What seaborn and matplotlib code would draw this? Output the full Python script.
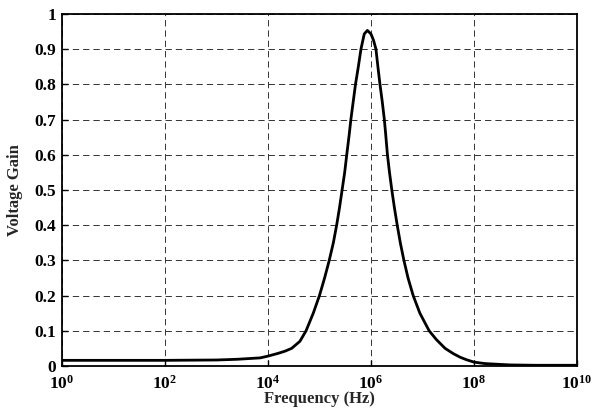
"""Voltage gain vs frequency (resonance curve)."""

import numpy as np
import pandas as pd
import seaborn as sns
from matplotlib import pyplot as plt

# values (log10 of frequency in Hz, gain)
log_freq = [
    0.0, 2.0, 3.0, 3.4, 3.85, 4.0, 4.2, 4.33, 4.46, 4.62, 4.74, 4.88, 5.00,
    5.10, 5.19, 5.27, 5.334, 5.39, 5.44, 5.49, 5.53, 5.58, 5.61, 5.655, 5.70,
    5.755, 5.806, 5.87, 5.93, 6.00, 6.05, 6.097, 6.135, 6.175, 6.22, 6.26,
    6.285, 6.32, 6.36, 6.405, 6.455, 6.51, 6.57, 6.64, 6.72, 6.82, 6.95,
    7.13, 7.27, 7.44, 7.6, 7.73, 7.85, 8.0, 8.2, 8.44, 8.7, 9.2, 10.0,
]
gain = [
    0.016, 0.016, 0.017, 0.019, 0.023, 0.028, 0.036, 0.042, 0.05, 0.07, 0.10,
    0.15, 0.20, 0.25, 0.30, 0.35, 0.40, 0.45, 0.50, 0.55, 0.60, 0.66, 0.70,
    0.75, 0.80, 0.85, 0.90, 0.943, 0.953, 0.943, 0.925, 0.90, 0.85, 0.80,
    0.75, 0.70, 0.66, 0.60, 0.55, 0.50, 0.45, 0.40, 0.35, 0.30, 0.25, 0.20,
    0.15, 0.10, 0.075, 0.05, 0.035, 0.025, 0.018, 0.011, 0.007, 0.005, 0.003,
    0.002, 0.002,
]
xtick_exp = [0, 2, 4, 6, 8, 10]
ytick_vals = [0, 0.1, 0.2, 0.3, 0.4, 0.5, 0.6, 0.7, 0.8, 0.9, 1]
ytick_labels = ["0", "0.1", "0.2", "0.3", "0.4", "0.5", "0.6", "0.7", "0.8", "0.9", "1"]

df = pd.DataFrame({"freq": 10.0 ** np.array(log_freq), "gain": gain})

sns.set_theme(style="ticks")
plt.rcParams["font.family"] = ["Liberation Serif", "DejaVu Serif"]
plt.rcParams["font.weight"] = "bold"
plt.rcParams["mathtext.fontset"] = "custom"
plt.rcParams["mathtext.rm"] = "Liberation Serif:bold"
plt.rcParams["mathtext.bf"] = "Liberation Serif:bold"
plt.rcParams["mathtext.it"] = "Liberation Serif:bold"

fig = plt.figure(figsize=(5.96, 4.08), dpi=100)
ax = fig.add_axes([0.104, 0.103, 0.864, 0.863])

sns.lineplot(data=df, x="freq", y="gain", color="black", linewidth=2.0, ax=ax)

ax.set_xscale("log")
ax.set_xlim(1, 1e10)
ax.set_ylim(0, 1)
ax.set_xticks([10.0 ** e for e in xtick_exp])
ax.set_xticklabels([rf"$\mathbf{{10^{{{e}}}}}$" for e in xtick_exp])
ax.xaxis.set_minor_locator(plt.NullLocator())
ax.set_yticks(ytick_vals)
ax.set_yticklabels(ytick_labels)

ax.grid(True, which="major", color="#333333", linestyle=(0, (6.5, 4.1)), linewidth=0.7)
for s in ax.spines.values():
    s.set_visible(True)
    s.set_color("black")
    s.set_linewidth(1.3)
ax.tick_params(direction="in", length=4, width=1, colors="black", labelsize=12.5)
ax.tick_params(axis="x", pad=6)
ax.tick_params(axis="y", pad=4)
for lbl in ax.get_yticklabels():
    lbl.set_fontweight("bold")

ax.set_xlabel("Frequency (Hz)", fontsize=12, fontweight="bold", labelpad=-1)
ax.set_ylabel("Voltage Gain", fontsize=12, fontweight="bold", labelpad=8)

fig.savefig("out.png", dpi=100)
